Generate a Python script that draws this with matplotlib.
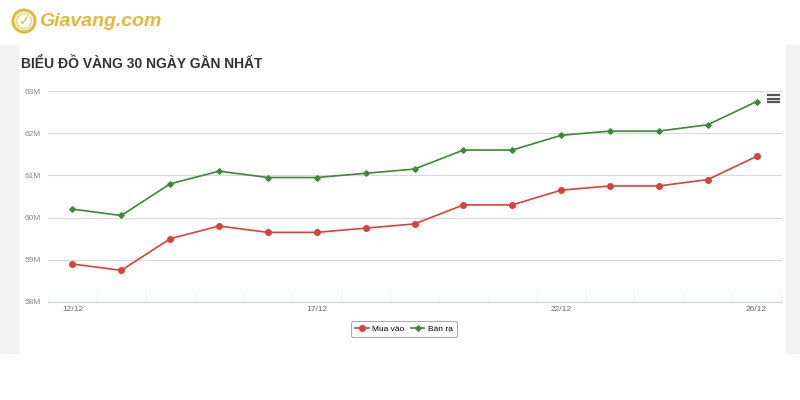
import matplotlib.pyplot as plt
import matplotlib.patches as mpatches
from matplotlib.lines import Line2D
import numpy as np

# Du lieu (trieu dong)
ngay = ["12/12", "13/12", "14/12", "15/12", "16/12", "17/12", "18/12", "19/12",
        "20/12", "21/12", "22/12", "23/12", "24/12", "25/12", "26/12"]
mua_vao = [58.90, 58.75, 59.50, 59.80, 59.65, 59.65, 59.75, 59.85,
           60.30, 60.30, 60.65, 60.75, 60.75, 60.90, 61.45]
ban_ra = [60.20, 60.05, 60.80, 61.10, 60.95, 60.95, 61.05, 61.15,
          61.60, 61.60, 61.95, 62.05, 62.05, 62.20, 62.75]
nhan_hien = ["12/12", "17/12", "22/12", "26/12"]
y_ticks = [58, 59, 60, 61, 62, 63]

W, H = 800, 400
fig = plt.figure(figsize=(8, 4), dpi=100)
fig.patch.set_facecolor("white")

def fx(px):
    return px / W

def fy(py):
    return 1 - py / H

# nen xam hai ben
fig.patches.append(mpatches.Rectangle((0, fy(353)), fx(18), fy(45) - fy(353),
                                      transform=fig.transFigure, color="#f2f2f2", zorder=0))
fig.patches.append(mpatches.Rectangle((fx(786), fy(353)), fx(14), fy(45) - fy(353),
                                      transform=fig.transFigure, color="#f2f2f2", zorder=0))

# logo
gold = "#e3b93c"
fig.patches.append(mpatches.Ellipse((fx(24), fy(21)), fx(22), 22 / H, transform=fig.transFigure,
                                    facecolor="none", edgecolor=gold, linewidth=2.2))
fig.patches.append(mpatches.Ellipse((fx(24), fy(21)), fx(15), 15 / H, transform=fig.transFigure,
                                    facecolor="none", edgecolor="#f0d470", linewidth=1.0))
fig.text(fx(25), fy(21), "✓", color=gold, fontsize=10, fontweight="bold",
         ha="center", va="center", family="DejaVu Sans")
fig.text(fx(39), fy(21), "Giavang.com", color=gold, fontsize=14, fontweight="bold",
         fontstyle="italic", ha="left", va="center", family="Liberation Sans")

# tieu de
fig.text(fx(21), fy(64), "BIỂU ĐỒ VÀNG 30 NGÀY GẦN NHẤT", color="#333333", fontsize=10,
         fontweight="bold", ha="left", va="center", family="Liberation Sans")

ax = fig.add_axes([fx(48), fy(302), fx(782) - fx(48), fy(91) - fy(302)])
x = np.arange(len(ngay))

ax.plot(x, mua_vao, color="#d9413a", linewidth=1.2, marker="o", markersize=4,
        label="Mua vào", zorder=3)
ax.plot(x, ban_ra, color="#3a8a36", linewidth=1.2, marker="D", markersize=2.8,
        label="Bán ra", zorder=3)

ax.set_xlim(-0.49, len(ngay) - 1 + 0.52)
ax.set_ylim(58, 63)
ax.set_yticks(y_ticks)
ax.set_yticklabels([f"{v}M" for v in y_ticks])
ax.yaxis.grid(True, color="#d9d9d9", linewidth=0.8)
ax.set_axisbelow(True)

vi_tri = [ngay.index(n) for n in nhan_hien]
ax.set_xticks(vi_tri)
ax.set_xticklabels(nhan_hien)
ax.set_xticks(np.arange(len(ngay) + 1) - 0.5, minor=True)
ax.tick_params(axis="x", which="major", length=0, pad=3, labelsize=6, labelcolor="#666666")
ax.tick_params(axis="x", which="minor", direction="in", length=7, color="#f4f4f4", width=0.7)
ax.tick_params(axis="y", length=0, pad=5, labelsize=6, labelcolor="#888888")
for lab in ax.get_xticklabels() + ax.get_yticklabels():
    lab.set_family("Liberation Sans")

for s in ["top", "right", "left"]:
    ax.spines[s].set_visible(False)
ax.spines["bottom"].set_color("#c8d0d8")
ax.spines["bottom"].set_linewidth(0.8)

leg = fig.legend(loc="center", bbox_to_anchor=(fx(404), fy(329)), ncol=2,
                 frameon=True, fancybox=True, edgecolor="#999999", handlelength=1.6,
                 columnspacing=0.8, handletextpad=0.4, borderpad=0.5,
                 prop={"family": "Liberation Sans", "size": 6})
leg.get_frame().set_linewidth(0.8)

# nut menu
for yy in [95, 98.5, 102]:
    fig.lines.append(Line2D([fx(768), fx(779)], [fy(yy), fy(yy)], transform=fig.transFigure,
                            color="#555555", linewidth=1.6))

fig.savefig("out.png", dpi=100)
